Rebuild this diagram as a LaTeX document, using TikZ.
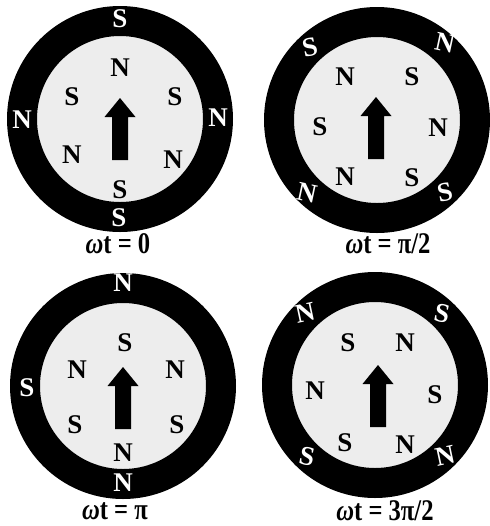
\documentclass[tikz,border=0pt]{standalone}
\usepackage{fontspec}
\setmainfont{Liberation Serif}
\newcommand{\narrow}[1]{\scalebox{0.82}[1]{#1}}
\begin{document}
\begin{tikzpicture}[x=0.5pt, y=-0.5pt, line width=0.7pt,
    every node/.style={font=\bfseries\fontsize{13.5}{13.5}\selectfont, inner sep=0pt},
    stator/.style={fill=black, even odd rule},
    rotor/.style={fill=black!7},
    outpole/.style={text=white},
    inpole/.style={text=black},
    caption/.style={font=\bfseries\fontsize{15}{15}\selectfont},
    fieldarrow/.pic={\fill (0,0) -- (15.5,19) -- (8,19) -- (8,62) -- (-8,62) -- (-8,19) -- (-15.5,19) -- cycle;}]
  \useasboundingbox (0,0) rectangle (489,526);
  % centres of the four machines
  \coordinate (c1) at (120,119);
  \coordinate (c2) at (377,120);
  \coordinate (c3) at (123,386);
  \coordinate (c4) at (375,385);
  % stator rings and rotors
  \foreach \c in {c1,c2,c3,c4} {
    \fill[rotor] (\c) circle (83);
    \fill[stator] (\c) circle (113) circle (83);
  }
  % rotor field arrows
  \pic at (120,98) {fieldarrow};
  \pic at (376,97) {fieldarrow};
  \pic at (123,367) {fieldarrow};
  \pic at (378,365) {fieldarrow};
  % wt = 0
  \node[outpole] (a-so1) at (120,19) {S};
  \node[outpole] (a-no1) at (22,120) {N};
  \node[outpole] (a-no2) at (218,118) {N};
  \node[outpole] (a-so2) at (119,218) {S};
  \node[inpole] (a-n1) at (120,68) {N};
  \node[inpole] (a-s1) at (72,97) {S};
  \node[inpole] (a-s2) at (175,97) {S};
  \node[inpole] (a-n2) at (72,155) {N};
  \node[inpole] (a-n3) at (173,160) {N};
  \node[inpole] (a-s3) at (120,190) {S};
  \node[caption] (a-lbl) at (118,244) {\narrow{\textit{ω}t = 0}};
  % wt = pi/2
  \node[outpole, rotate=12] (b-so1) at (310,47) {S};
  \node[outpole, rotate=-12] (b-no1) at (445,43) {N};
  \node[outpole, rotate=-12] (b-no2) at (307,193) {N};
  \node[outpole, rotate=12] (b-so2) at (445,192) {S};
  \node[inpole] (b-n1) at (345,77) {N};
  \node[inpole] (b-s1) at (412,77) {S};
  \node[inpole] (b-s2) at (320,127) {S};
  \node[inpole] (b-n2) at (438,128) {N};
  \node[inpole] (b-n3) at (345,177) {N};
  \node[inpole] (b-s3) at (412,178) {S};
  \node[caption] (b-lbl) at (388,244) {\narrow{\textit{ω}t = π/2}};
  % wt = pi
  \node[outpole] (c-no1) at (123,283) {N};
  \node[outpole] (c-so1) at (27,388) {S};
  \node[outpole] (c-no2) at (123,483) {N};
  \node[inpole] (c-s1) at (125,343) {S};
  \node[inpole] (c-n1) at (77,370) {N};
  \node[inpole] (c-n2) at (175,370) {N};
  \node[inpole] (c-s2) at (75,425) {S};
  \node[inpole] (c-s3) at (177,425) {S};
  \node[inpole] (c-n3) at (123,453) {N};
  \node[caption] (c-lbl) at (115,511) {\narrow{\textit{ω}t = π}};
  % wt = 3pi/2
  \node[outpole, rotate=12] (d-no1) at (305,313) {N};
  \node[outpole, rotate=-12] (d-so1) at (442,313) {S};
  \node[outpole, rotate=-12] (d-so2) at (307,456) {S};
  \node[outpole, rotate=12] (d-no2) at (445,456) {N};
  \node[inpole] (d-s1) at (348,343) {S};
  \node[inpole] (d-n1) at (405,343) {N};
  \node[inpole] (d-n2) at (315,391) {N};
  \node[inpole] (d-s2) at (435,395) {S};
  \node[inpole] (d-s3) at (345,443) {S};
  \node[inpole] (d-n3) at (405,445) {N};
  \node[caption] (d-lbl) at (385,511) {\narrow{\textit{ω}t = 3π/2}};
\end{tikzpicture}
\end{document}
